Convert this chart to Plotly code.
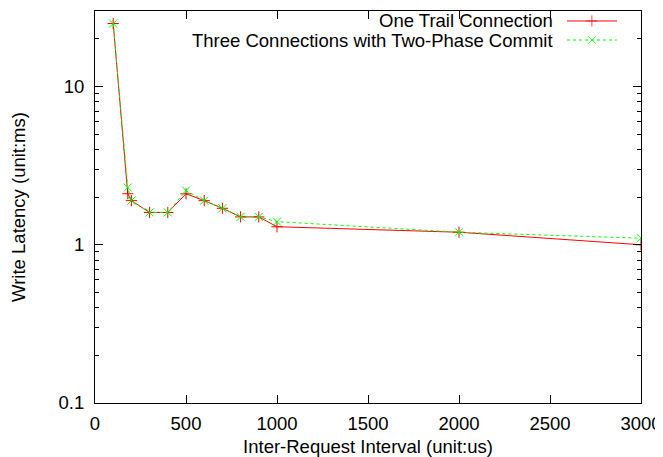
import plotly.graph_objects as go
import math

interval = [100, 180, 200, 300, 400, 500, 600, 700, 800, 900, 1000, 2000, 3000]
one_trail = [25, 2.1, 1.9, 1.6, 1.6, 2.1, 1.9, 1.7, 1.5, 1.5, 1.3, 1.2, 1.0]
three_conn = [25, 2.3, 1.9, 1.6, 1.6, 2.2, 1.9, 1.7, 1.5, 1.5, 1.4, 1.2, 1.1]
series_names = ["One Trail Connection", "Three Connections with Two-Phase Commit"]
x_ticks = [0, 500, 1000, 1500, 2000, 2500, 3000]
y_ticks = [0.1, 1, 10]
y_minor = [0.2, 0.3, 0.4, 0.5, 0.6, 0.7, 0.8, 0.9, 2, 3, 4, 5, 6, 7, 8, 9, 20]

FONT = "Liberation Sans, Arial, sans-serif"
RED = "#ff0000"
GREEN = "#00ff00"
FS = 18.5

fig = go.Figure()
fig.add_trace(go.Scatter(
    x=interval, y=one_trail, mode="lines+markers", name=series_names[0],
    line=dict(color=RED, width=1),
    marker=dict(symbol="cross-thin-open", size=8, line=dict(color=RED, width=1), color=RED),
    showlegend=False))
fig.add_trace(go.Scatter(
    x=interval, y=three_conn, mode="lines+markers", name=series_names[1],
    line=dict(color=GREEN, width=1, dash="3px,3px"),
    marker=dict(symbol="x-thin-open", size=8, line=dict(color=GREEN, width=1), color=GREEN),
    showlegend=False))

# gnuplot-style legend: text right-aligned, sample on the right
leg_text_x = 0.8425
leg_rows = [0.9745, 0.926]
leg_line = [0.8645, 0.910, 0.956]
styles = [(RED, "solid", "cross-thin-open"), (GREEN, "3px,3px", "x-thin-open")]
for name, ry, (col, dash, sym) in zip(series_names, leg_rows, styles):
    fig.add_annotation(x=leg_text_x, y=ry, xref="paper", yref="paper", text=name,
                       showarrow=False, xanchor="right", yanchor="middle",
                       font=dict(family=FONT, size=FS, color="black"))
    fig.add_trace(go.Scatter(
        x=leg_line, y=[ry] * 3, xaxis="x2", yaxis="y2", mode="lines+markers",
        line=dict(color=col, width=1, dash=dash),
        marker=dict(symbol=sym, size=[0, 8, 0], line=dict(color=col, width=1), color=col),
        showlegend=False, hoverinfo="skip"))

# the page body adds an 8px margin, so the figure is sized to fit the 663x457 window
fig.update_layout(
    width=655, height=449,
    margin=dict(l=87, r=22, t=3, b=54),
    paper_bgcolor="white", plot_bgcolor="white",
    font=dict(family=FONT, size=FS, color="black"),
    xaxis=dict(
        range=[0, 3000], tickvals=x_ticks, ticks="inside", ticklen=8, tickcolor="black",
        showline=True, linecolor="black", linewidth=1, mirror="ticks", showgrid=False,
        zeroline=False, automargin=False, ticklabelstandoff=4,
        title=dict(text="Inter-Request Interval (unit:us)", standoff=8,
                   font=dict(family=FONT, size=FS)),
        tickfont=dict(family=FONT, size=FS)),
    yaxis=dict(
        type="log", range=[-1, math.log10(30)], tickvals=y_ticks, ticktext=["0.1", "1", "10"],
        ticks="inside", ticklen=8, tickcolor="black",
        showline=True, linecolor="black", linewidth=1, mirror="ticks", showgrid=False,
        zeroline=False, automargin=False, ticklabelstandoff=6,
        minor=dict(tickvals=y_minor, ticks="inside", ticklen=4, tickcolor="black", showgrid=False),
        title=dict(text="Write Latency (unit:ms)", standoff=28,
                   font=dict(family=FONT, size=FS)),
        tickfont=dict(family=FONT, size=FS)),
    xaxis2=dict(domain=[0, 1], range=[0, 1], overlaying="x", visible=False, anchor="y2"),
    yaxis2=dict(domain=[0, 1], range=[0, 1], overlaying="y", visible=False, anchor="x2"),
)

fig.write_html("out.html")
